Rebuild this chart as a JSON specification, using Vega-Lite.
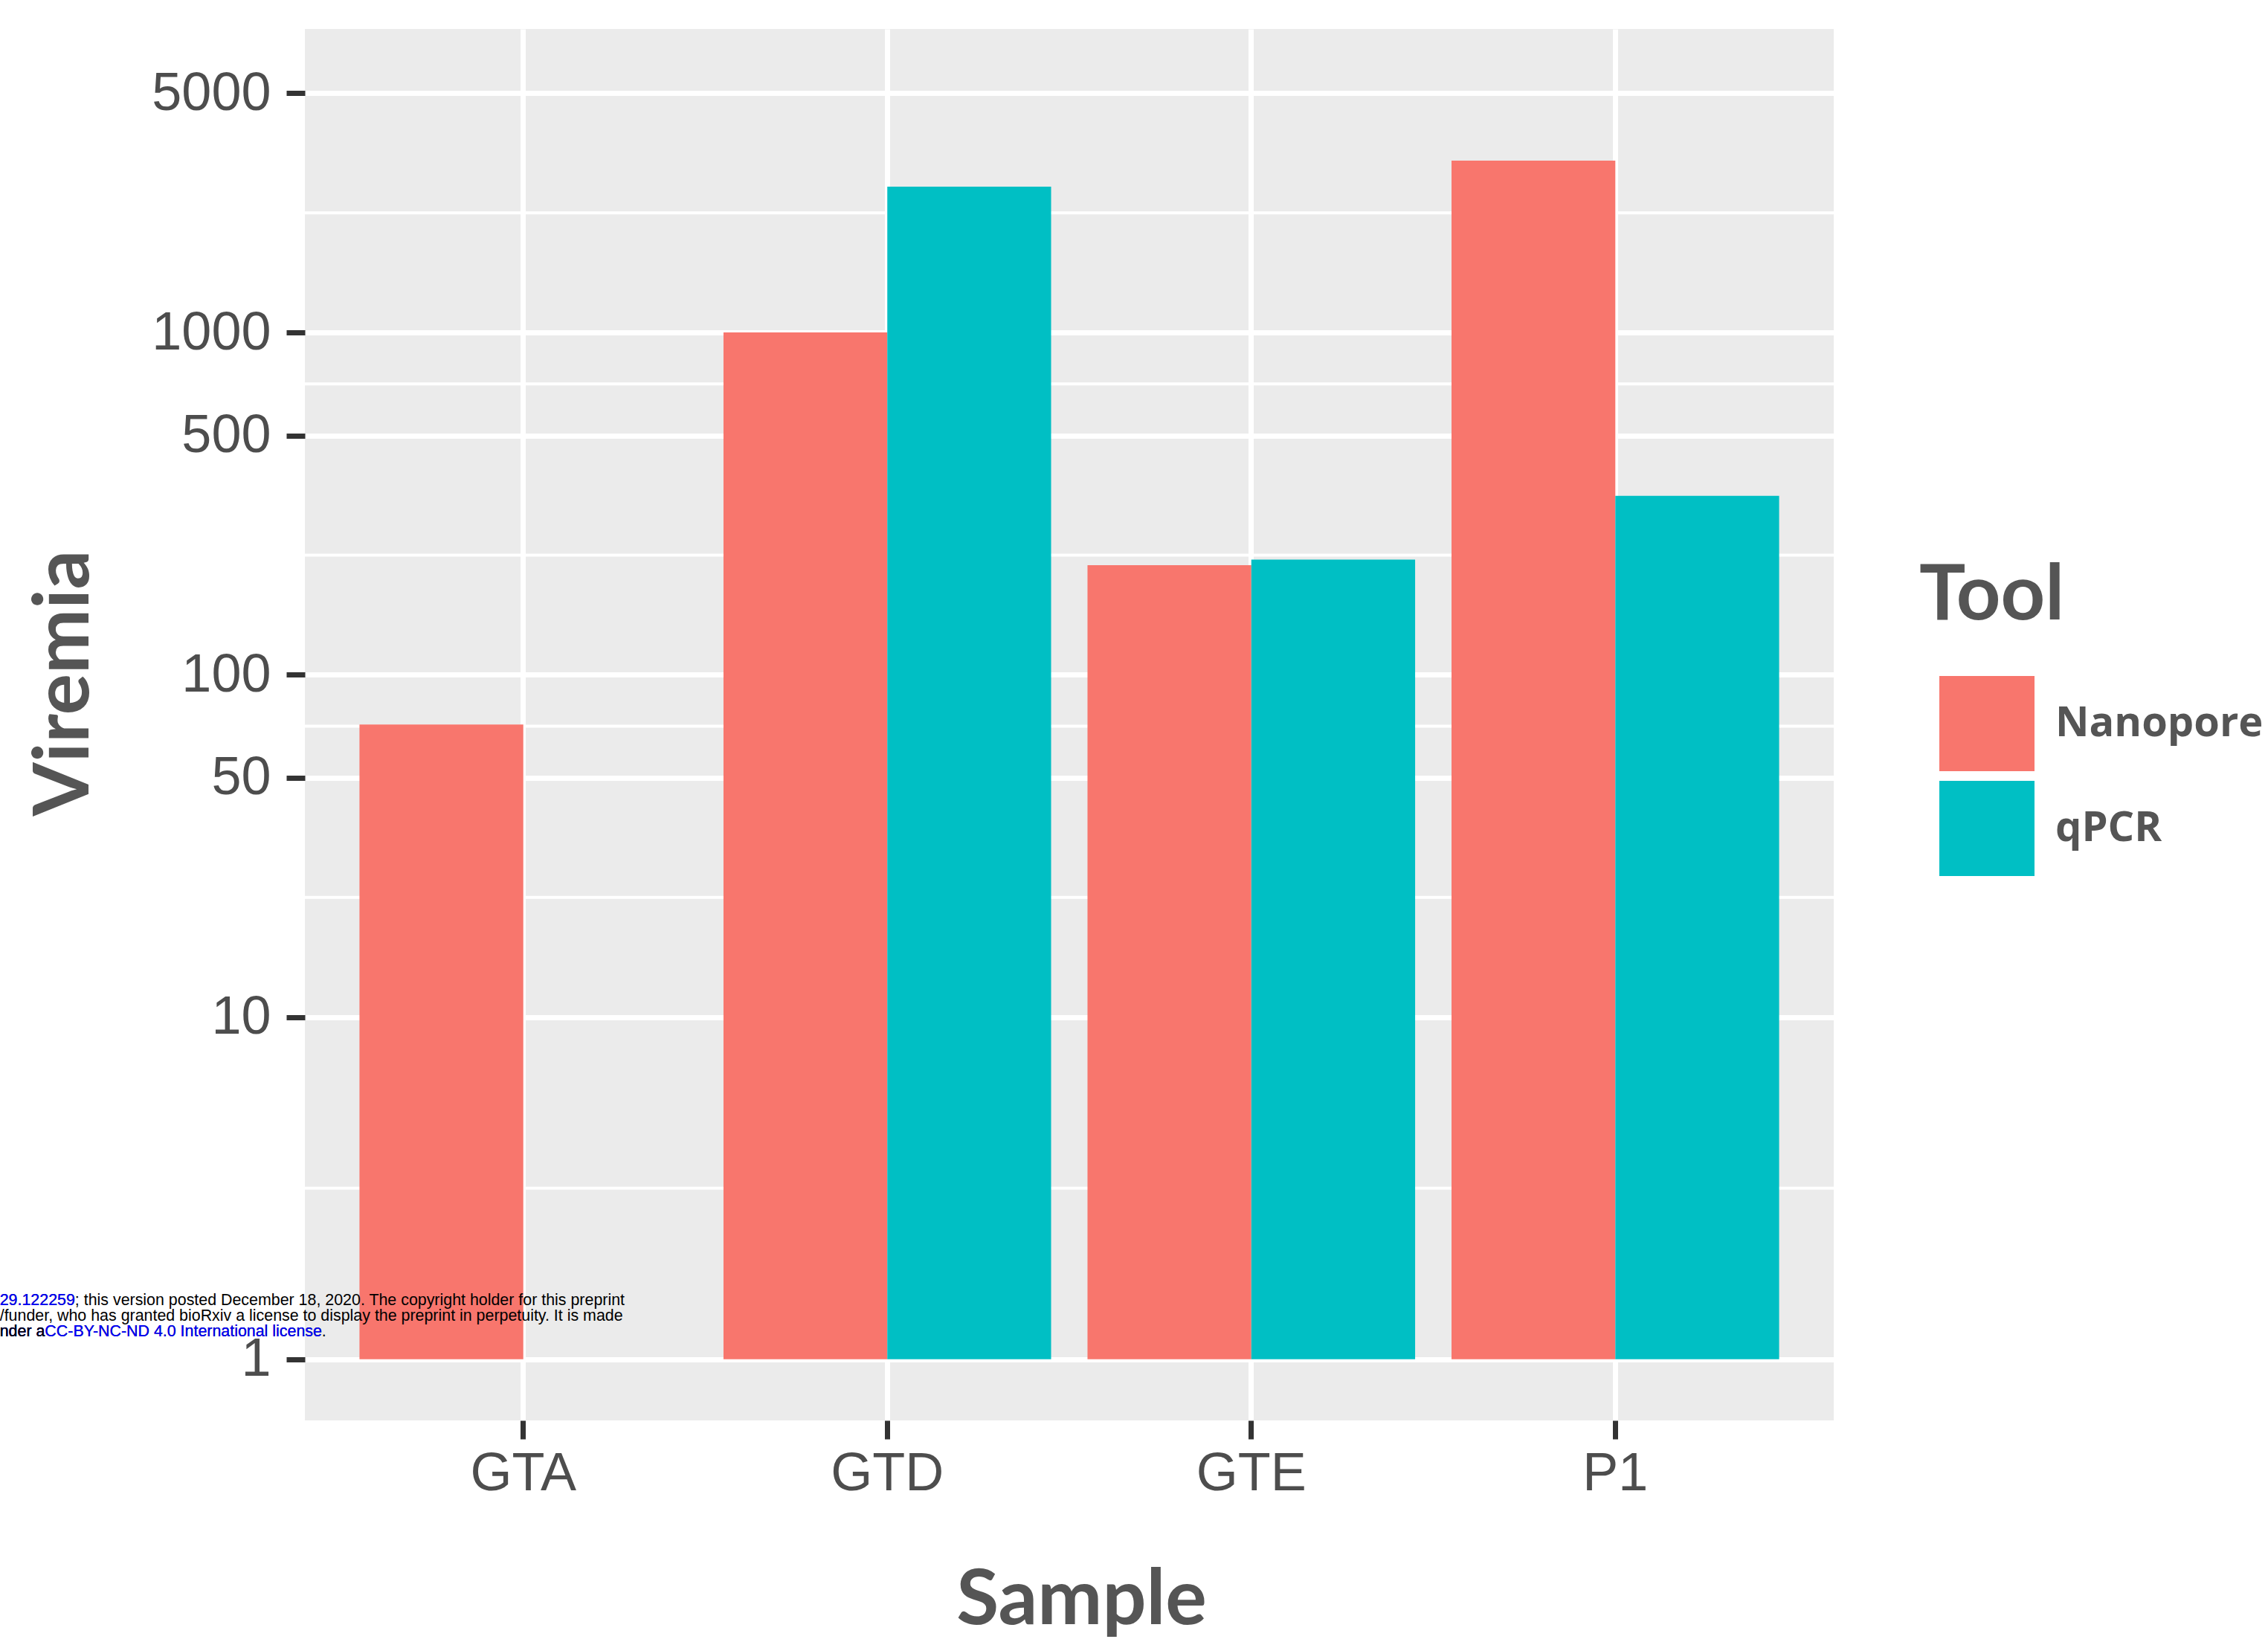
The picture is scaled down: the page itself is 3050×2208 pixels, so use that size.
{
  "$schema": "https://vega.github.io/schema/vega-lite/v6.json",
  "autosize": {"type": "none"},
  "width": 2056,
  "height": 1871,
  "padding": {"left": 410, "top": 39, "right": 584, "bottom": 298},
  "background": "white",
  "config": {
    "view": {"fill": "#EBEBEB", "stroke": null},
    "axis": {
      "domain": false,
      "labelColor": "#4D4D4D",
      "labelFont": "Liberation Sans",
      "labelFontSize": 72,
      "tickColor": "#333333",
      "tickWidth": 7,
      "tickSize": 25,
      "titleFont": "Lato",
      "titleFontWeight": "bold",
      "titleFontSize": 104,
      "titleColor": "#555555",
      "gridColor": "#FFFFFF",
      "gridWidth": 7
    },
    "legend": {
      "orient": "none",
      "legendX": 2171,
      "legendY": 712,
      "titleFont": "Lato",
      "titleFontWeight": "bold",
      "titleFontSize": 104,
      "titleColor": "#555555",
      "titlePadding": 54,
      "titleLimit": 2000,
      "labelLimit": 2000,
      "labelFont": "Open Sans",
      "labelFontWeight": "bold",
      "labelFontSize": 56,
      "labelColor": "#555555",
      "symbolType": "square",
      "symbolSize": 16384,
      "symbolStrokeWidth": 0,
      "symbolOpacity": 1,
      "rowPadding": 13,
      "symbolOffset": 27,
      "labelOffset": 28
    }
  },
  "layer": [
    {
      "data": {"values": [{"minor": 3.162}, {"minor": 22.36}, {"minor": 70.71}, {"minor": 223.6}, {"minor": 707.1}, {"minor": 2236}]},
      "mark": {"type": "rule", "color": "#FFFFFF", "strokeWidth": 4},
      "encoding": {
        "y": {"field": "minor", "type": "quantitative", "title": "Viremia",
              "scale": {"type": "log", "domain": [0.663, 7700], "nice": false, "zero": false},
              "axis": {"values": [1, 10, 50, 100, 500, 1000, 5000], "format": "d", "grid": true, "labelPadding": 21, "titlePadding": 70, "titleY": 879}}
      }
    },
    {
      "data": {"values": [
        {"Sample": "GTA", "Tool": "Nanopore", "Viremia": 71.5},
        {"Sample": "GTD", "Tool": "Nanopore", "Viremia": 1000},
        {"Sample": "GTD", "Tool": "qPCR", "Viremia": 2667},
        {"Sample": "GTE", "Tool": "Nanopore", "Viremia": 209},
        {"Sample": "GTE", "Tool": "qPCR", "Viremia": 217},
        {"Sample": "P1", "Tool": "Nanopore", "Viremia": 3177},
        {"Sample": "P1", "Tool": "qPCR", "Viremia": 333}
      ]},
      "mark": {"type": "bar", "opacity": 1},
      "encoding": {
        "x": {"field": "Sample", "type": "nominal", "title": "Sample",
              "scale": {"domain": ["GTA", "GTD", "GTE", "P1"], "paddingInner": 0.1, "paddingOuter": 0.15},
              "axis": {"labelAngle": 0, "grid": true, "bandPosition": 0.5, "labelPadding": 11, "titlePadding": 84, "titleX": 1044}},
        "xOffset": {"field": "Tool", "type": "nominal", "scale": {"domain": ["Nanopore", "qPCR"], "paddingInner": 0, "paddingOuter": 0}},
        "y": {"field": "Viremia", "type": "quantitative", "title": "Viremia",
              "scale": {"type": "log", "domain": [0.663, 7700], "nice": false, "zero": false},
              "axis": {"values": [1, 10, 50, 100, 500, 1000, 5000], "format": "d", "grid": true, "labelPadding": 21, "titlePadding": 70, "titleY": 879}},
        "y2": {"datum": 1},
        "color": {"field": "Tool", "type": "nominal", "title": "Tool",
                  "scale": {"domain": ["Nanopore", "qPCR"], "range": ["#F8766D", "#00BFC4"]}}
      }
    },
    {
      "data": {"values": [{"note": "29.122259; this version posted December 18, 2020. The copyright holder for this preprint\n/funder, who has granted bioRxiv a license to display the preprint in perpetuity. It is made\nnder aCC-BY-NC-ND 4.0 International license."}]},
      "mark": {"type": "text", "align": "left", "baseline": "top", "dx": -704, "fontSize": 21.4, "lineHeight": 21, "lineBreak": "\n", "font": "Liberation Sans", "color": "#000000"},
      "encoding": {"x": {"datum": "GTA"}, "y": {"datum": 1.569}, "text": {"field": "note"}}
    },
    {
      "data": {"values": [{"note": "29.122259"}]},
      "mark": {"type": "text", "align": "left", "baseline": "top", "dx": -704, "fontSize": 21.4, "font": "Liberation Sans", "color": "#0000FF"},
      "encoding": {"x": {"datum": "GTA"}, "y": {"datum": 1.569}, "text": {"field": "note"}}
    },
    {
      "data": {"values": [{"note": "nder aCC-BY-NC-ND 4.0 International license"}]},
      "mark": {"type": "text", "align": "left", "baseline": "top", "dx": -704, "fontSize": 21.4, "font": "Liberation Sans", "color": "#0000FF"},
      "encoding": {"x": {"datum": "GTA"}, "y": {"datum": 1.272}, "text": {"field": "note"}}
    },
    {
      "data": {"values": [{"note": "nder a"}]},
      "mark": {"type": "text", "align": "left", "baseline": "top", "dx": -704, "fontSize": 21.4, "font": "Liberation Sans", "color": "#000000"},
      "encoding": {"x": {"datum": "GTA"}, "y": {"datum": 1.272}, "text": {"field": "note"}}
    }
  ]
}
